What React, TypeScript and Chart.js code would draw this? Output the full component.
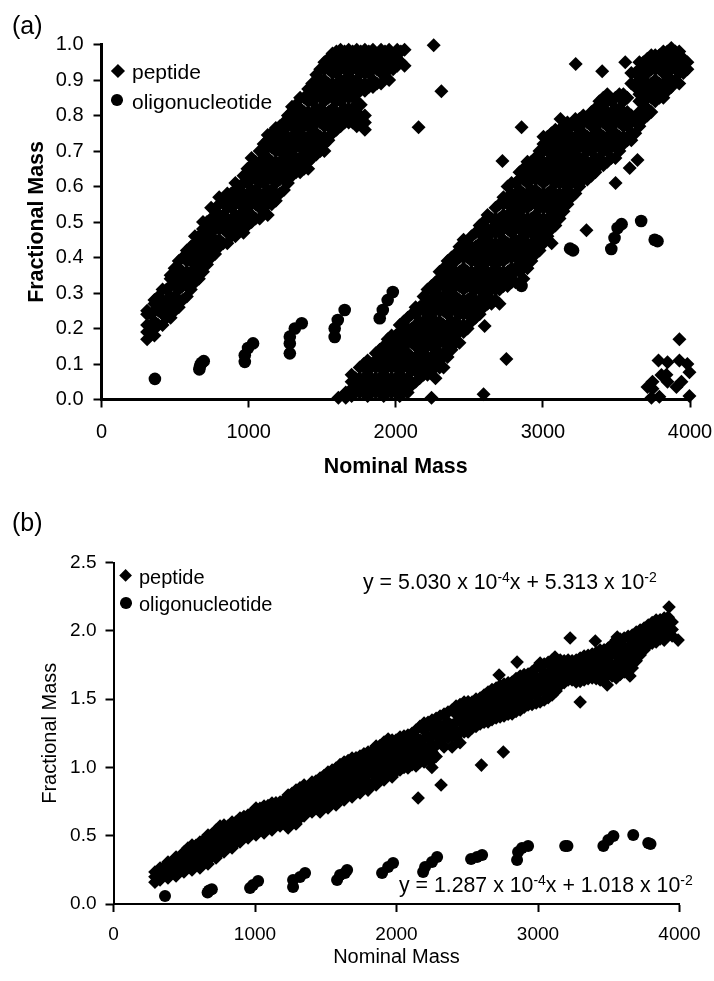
import React, { useEffect, useRef } from "react";
import { Chart, registerables } from "chart.js";

Chart.register(...registerables);

type Col = [number, number[]];

const xTicks = [0, 1000, 2000, 3000, 4000];

// Panel (a): peptide cloud, left branch, per nominal mass column
const peptideUpperA: Col[] = [
  [310, [.17, .19, .21, .24, .25]],
  [360, [.18, .2, .22, .25, .27, .28]],
  [415, [.21, .24, .26, .28, .31]],
  [470, [.23, .25, .27, .29, .32, .34, .35]],
  [525, [.26, .28, .31, .33, .35, .37, .39]],
  [580, [.29, .32, .34, .36, .39, .41, .42]],
  [635, [.33, .35, .37, .4, .42, .44, .46]],
  [690, [.36, .39, .41, .43, .45, .48, .5]],
  [745, [.4, .42, .44, .47, .49, .51, .54]],
  [800, [.43, .45, .48, .5, .52, .55, .57]],
  [855, [.44, .47, .49, .51, .54, .56, .58]],
  [910, [.46, .48, .5, .52, .55, .57, .59, .61]],
  [965, [.47, .49, .51, .54, .56, .58, .61, .63]],
  [1020, [.5, .52, .55, .57, .59, .62, .64, .66, .68]],
  [1075, [.51, .54, .56, .58, .61, .63, .65, .67, .7]],
  [1130, [.52, .55, .57, .59, .62, .64, .66, .68, .71, .73, .745]],
  [1185, [.56, .58, .61, .63, .65, .67, .7, .72, .74, .765]],
  [1240, [.59, .62, .64, .66, .68, .71, .73, .75, .78]],
  [1295, [.63, .65, .67, .7, .72, .74, .77, .79, .81, .825]],
  [1350, [.64, .66, .68, .71, .73, .75, .78, .8, .82, .85]],
  [1405, [.65, .67, .7, .72, .74, .77, .79, .81, .84, .86, .875]],
  [1460, [.69, .71, .73, .75, .78, .8, .82, .85, .87, .89, .915]],
  [1515, [.7, .72, .74, .77, .79, .81, .84, .86, .88, .9, .93, .95]],
  [1570, [.75, .78, .8, .82, .85, .87, .89, .92, .94, .96, .975]],
  [1625, [.77, .79, .81, .84, .86, .88, .9, .93, .95, .97, .985]],
  [1680, [.78, .8, .82, .85, .87, .89, .92, .94, .96, .985]],
  [1735, [.77, .79, .81, .84, .86, .88, .9, .93, .95, .97, .985]],
  [1790, [.76, .78, .8, .87, .89, .92, .94, .96, .985]],
  [1845, [.88, .9, .93, .95, .97, .985]],
  [1900, [.89, .92, .94, .96, .985]],
  [1955, [.9, .93, .95, .97, .985]],
  [2010, [.94, .96, .985]],
  [2060, [.94, .985]],
];

const peptideUpperCoreA: Col[] = [
  [337, [.2, .24]], [387, [.21, .25, .29]], [442, [.23, .27, .31]], [497, [.25, .29, .33, .37]],
  [552, [.28, .32, .36, .4]], [607, [.31, .35, .39, .43]], [662, [.34, .38, .42, .46]], [717, [.38, .42, .46, .5]],
  [772, [.41, .45, .49, .53]], [827, [.44, .48, .52, .56]], [882, [.46, .5, .54, .58]], [937, [.48, .52, .56, .6]],
  [992, [.49, .53, .57, .61, .65]], [1047, [.51, .55, .59, .63, .67]], [1102, [.53, .57, .61, .65, .69, .72]],
  [1157, [.55, .59, .63, .67, .71, .75]], [1212, [.58, .62, .66, .7, .74, .77]], [1267, [.61, .65, .69, .73, .77, .8]],
  [1322, [.64, .68, .72, .76, .8, .83]], [1377, [.65, .69, .73, .77, .81, .85]], [1432, [.68, .72, .76, .8, .84, .89]],
  [1487, [.7, .74, .78, .82, .86, .9, .93]], [1542, [.73, .77, .81, .85, .89, .93, .96]], [1597, [.76, .8, .84, .88, .92, .96, .98]],
  [1652, [.78, .82, .86, .9, .94, .98]], [1707, [.78, .82, .86, .9, .94, .98]], [1762, [.79, .83, .88, .92, .96, .98]],
  [1817, [.88, .92, .96, .98]], [1872, [.89, .93, .97]], [1927, [.91, .95, .98]], [1982, [.93, .97]], [2035, [.95, .98]],
];

// Panel (a): peptide cloud, right branch
const peptideLowerA: Col[] = [
  [1610, [.005]], [1660, [.005, .02]],
  [1700, [.01, .03, .05, .07]],
  [1755, [.02, .04, .06, .09]],
  [1809, [.01, .03, .05, .08, .1, .11]],
  [1864, [.02, .04, .06, .09, .11, .13]],
  [1918, [.01, .03, .05, .08, .1, .12, .15]],
  [1972, [.02, .04, .06, .09, .11, .13, .16, .18]],
  [2027, [.01, .03, .05, .08, .1, .12, .15, .17, .19, .21]],
  [2081, [.02, .04, .06, .09, .11, .13, .16, .18, .2, .23]],
  [2135, [.05, .08, .1, .12, .15, .17, .19, .21, .24, .26]],
  [2189, [.07, .09, .11, .13, .16, .18, .2, .22, .25, .27, .29]],
  [2243, [.08, .1, .12, .15, .17, .19, .21, .24, .26, .28, .32]],
  [2298, [.09, .11, .13, .16, .18, .2, .22, .25, .27, .29, .32, .34, .36]],
  [2352, [.12, .15, .17, .19, .21, .24, .26, .28, .31, .33, .35, .37, .39]],
  [2406, [.16, .18, .2, .22, .25, .27, .29, .32, .34, .36, .39, .41]],
  [2461, [.19, .21, .24, .26, .28, .31, .33, .35, .37, .4, .42, .45]],
  [2515, [.22, .25, .27, .29, .32, .34, .36, .39, .41, .43, .46]],
  [2570, [.24, .26, .28, .31, .33, .35, .37, .4, .42, .44, .47, .49]],
  [2624, [.27, .29, .32, .34, .36, .39, .41, .43, .45, .48, .52]],
  [2678, [.28, .31, .33, .35, .37, .4, .42, .44, .47, .49, .51, .54]],
  [2732, [.32, .34, .36, .39, .41, .43, .45, .48, .5, .52, .55, .57]],
  [2787, [.33, .35, .37, .4, .42, .44, .47, .49, .51, .54, .56, .58, .61]],
  [2841, [.36, .39, .41, .43, .45, .48, .5, .52, .55, .57, .59, .62, .64]],
  [2895, [.37, .4, .42, .44, .47, .49, .51, .54, .56, .58, .61, .63, .65, .67]],
  [2950, [.41, .43, .45, .48, .5, .52, .55, .57, .59, .62, .64, .66, .68]],
  [3004, [.44, .47, .49, .51, .54, .56, .58, .61, .63, .65, .67, .7, .72, .74]],
  [3058, [.48, .5, .52, .55, .57, .59, .62, .64, .66, .68, .71, .73, .75]],
  [3113, [.51, .54, .56, .58, .61, .63, .65, .67, .7, .72, .74, .76]],
  [3167, [.55, .57, .59, .62, .64, .66, .68, .71, .73, .75, .78]],
  [3221, [.58, .61, .63, .65, .67, .7, .72, .74, .77, .79]],
  [3275, [.62, .64, .66, .68, .71, .73, .75, .78, .8]],
  [3330, [.63, .65, .67, .7, .72, .74, .77, .79, .81]],
  [3384, [.66, .68, .71, .73, .75, .78, .8, .82, .84]],
  [3438, [.67, .7, .72, .74, .77, .79, .81, .84, .86]],
  [3493, [.68, .71, .73, .75, .78, .8, .82, .85]],
  [3547, [.72, .74, .77, .79, .81, .84, .86]],
  [3601, [.73, .75, .78, .8, .89, .92]],
  [3656, [.77, .79, .81, .84, .86, .88, .9, .93, .95]],
  [3710, [.8, .82, .85, .87, .89, .92, .94, .96]],
  [3764, [.84, .86, .88, .9, .93, .95, .97]],
  [3819, [.85, .87, .89, .92, .94, .96, .98]],
  [3873, [.88, .9, .93, .95, .97, .99]],
  [3927, [.89, .92, .94, .96, .98]],
  [3982, [.93, .95]],
];

const peptideLowerCoreA: Col[] = [
  [1727, [.02, .06]], [1782, [.02, .06, .1]], [1836, [.02, .06, .1]], [1891, [.02, .06, .1, .14]],
  [1945, [.02, .06, .1, .14, .17]], [2000, [.02, .06, .1, .14, .18]], [2054, [.02, .06, .1, .14, .18, .22]],
  [2108, [.04, .08, .12, .16, .2, .24]], [2162, [.06, .1, .14, .18, .22, .26]], [2216, [.07, .11, .15, .19, .23, .27, .31]],
  [2270, [.06, .1, .14, .18, .22, .26, .3, .33]], [2325, [.09, .13, .17, .21, .25, .29, .33, .37]],
  [2379, [.14, .18, .22, .26, .3, .34, .38, .4]], [2433, [.16, .2, .24, .28, .32, .36, .4, .43]],
  [2488, [.2, .24, .28, .32, .36, .4, .44]], [2542, [.23, .27, .31, .35, .39, .43, .47]],
  [2597, [.26, .3, .34, .38, .42, .46, .5]], [2651, [.27, .31, .35, .39, .43, .47, .51]],
  [2705, [.27, .31, .35, .39, .43, .47, .51, .55]], [2760, [.32, .36, .4, .44, .48, .52, .56, .6]],
  [2814, [.33, .37, .41, .45, .49, .53, .57, .61]], [2868, [.34, .38, .42, .46, .5, .54, .58, .62, .65]],
  [2922, [.39, .43, .47, .51, .55, .59, .63, .67]], [2977, [.42, .46, .5, .54, .58, .62, .66, .7]],
  [3031, [.46, .5, .54, .58, .62, .66, .7, .74]], [3085, [.49, .53, .57, .61, .65, .69, .73, .76]],
  [3140, [.53, .57, .61, .65, .69, .73, .77]], [3194, [.57, .61, .65, .69, .73, .77]],
  [3248, [.6, .64, .68, .72, .76, .79]], [3302, [.62, .66, .7, .74, .78]], [3357, [.64, .68, .72, .76, .8, .82]],
  [3411, [.66, .7, .74, .78, .82, .85]], [3465, [.68, .72, .76, .8, .84]], [3520, [.7, .74, .78, .82, .86]],
  [3574, [.73, .77, .81, .85]], [3628, [.75, .79, .88, .92]], [3683, [.79, .83, .87, .91, .95]],
  [3737, [.81, .85, .89, .93, .97]], [3792, [.85, .89, .93, .97]], [3846, [.87, .91, .95, .98]],
  [3900, [.9, .94, .98]], [3955, [.92, .96]],
];

const peptideStrayA: [number, number][] = [
  [2258, 0.998], [2310, 0.868], [2155, 0.767], [3223, 0.945], [3403, 0.925], [3560, 0.95], [3120, 0.79], [2855, 0.767],
  [2725, 0.672], [2955, 0.683], [3643, 0.675], [3590, 0.652], [3494, 0.61], [3296, 0.477], [3060, 0.44], [2604, 0.207],
  [2752, 0.114], [2597, 0.015], [2243, 0.005], [3928, 0.17], [3786, 0.11], [3928, 0.11], [3982, 0.1], [3996, 0.077],
  [3847, 0.105], [3806, 0.069], [3745, 0.05], [3711, 0.035], [3847, 0.05], [3942, 0.05], [3908, 0.035], [3738, 0.005],
  [3792, 0.008], [3996, 0.01], [3840, 0.07], [3745, 0.03],
];

const oligoA: [number, number][] = [
  [363, 0.058], [665, 0.085], [670, 0.095], [680, 0.103], [695, 0.108], [974, 0.106], [974, 0.125], [996, 0.145], [1030, 0.158],
  [1280, 0.13], [1280, 0.158], [1280, 0.177], [1314, 0.2], [1361, 0.215], [1585, 0.176], [1585, 0.2], [1606, 0.224], [1653, 0.252],
  [1891, 0.229], [1912, 0.252], [1945, 0.28], [1980, 0.303], [2210, 0.26], [2240, 0.28], [2270, 0.3], [2500, 0.32], [2550, 0.335],
  [2590, 0.35], [2855, 0.32], [2870, 0.4], [2930, 0.42], [3185, 0.425], [3205, 0.42], [3465, 0.424], [3487, 0.455], [3508, 0.483],
  [3535, 0.494], [3668, 0.503], [3760, 0.45], [3779, 0.446],
];

// Panel (b): peptide band
const peptideBandB: Col[] = [
  [293, [.16, .2, .234]], [329, [.176, .22, .264]], [385, [.19, .25, .307]], [442, [.205, .25, .3, .344]],
  [498, [.234, .28, .33, .381]], [555, [.249, .3, .35, .4, .432]], [611, [.264, .32, .37, .42, .454]],
  [668, [.293, .34, .39, .45, .505]], [725, [.337, .39, .44, .49, .542]], [781, [.381, .43, .48, .53, .578]],
  [838, [.41, .46, .505, .55, .6]], [894, [.454, .5, .55, .59, .63]], [951, [.483, .53, .57, .61, .651]],
  [1007, [.505, .55, .6, .65, .703]], [1064, [.52, .57, .62, .67, .717]], [1120, [.542, .59, .64, .69, .739]],
  [1177, [.571, .62, .66, .7, .747]], [1234, [.556, .61, .66, .71, .75, .798]], [1290, [.586, .64, .69, .74, .79, .834]],
  [1347, [.644, .69, .74, .79, .83, .871]], [1403, [.673, .72, .77, .81, .85, .893]], [1460, [.673, .73, .78, .83, .88, .922]],
  [1516, [.703, .75, .8, .85, .91, .966]], [1573, [.725, .78, .83, .89, .94, .996]], [1630, [.761, .81, .87, .93, .98, 1.04]],
  [1686, [.783, .84, .89, .95, 1.01, 1.069]], [1742, [.813, .87, .92, .98, 1.03, 1.083]], [1799, [.834, .89, .95, 1.0, 1.06, 1.113]],
  [1856, [.871, .93, .98, 1.04, 1.1, 1.157]], [1912, [.908, .96, 1.02, 1.08, 1.13, 1.186]], [1969, [.93, .99, 1.04, 1.09, 1.15, 1.2]],
  [2025, [.981, 1.03, 1.08, 1.13, 1.18, 1.222]], [2081, [.996, 1.05, 1.1, 1.15, 1.2, 1.237]], [2138, [1.01, 1.07, 1.12, 1.17, 1.22, 1.274]],
  [2195, [1.04, 1.09, 1.15, 1.21, 1.27, 1.325]], [2251, [1.054, 1.11, 1.17, 1.23, 1.29, 1.347]], [2308, [1.186, 1.24, 1.3, 1.376]],
  [2364, [1.215, 1.27, 1.33, 1.405]], [2421, [1.215, 1.27, 1.33, 1.39, 1.449]], [2478, [1.259, 1.31, 1.37, 1.43, 1.479]],
  [2534, [1.288, 1.34, 1.39, 1.44, 1.479]], [2591, [1.318, 1.37, 1.41, 1.46, 1.508]], [2647, [1.332, 1.39, 1.44, 1.5, 1.552]],
  [2704, [1.362, 1.42, 1.47, 1.53, 1.581]], [2760, [1.376, 1.43, 1.49, 1.55, 1.61]], [2817, [1.391, 1.45, 1.51, 1.57, 1.625]],
  [2874, [1.42, 1.48, 1.545, 1.61, 1.669]], [2930, [1.457, 1.51, 1.57, 1.63, 1.684]], [2987, [1.471, 1.53, 1.6, 1.66, 1.728]],
  [3044, [1.493, 1.56, 1.625, 1.69, 1.757]], [3100, [1.53, 1.6, 1.66, 1.72, 1.786]], [3157, [1.603, 1.65, 1.695, 1.74, 1.786]],
  [3213, [1.64, 1.68, 1.71, 1.75, 1.786]], [3270, [1.625, 1.67, 1.705, 1.75, 1.786]], [3326, [1.64, 1.68, 1.73, 1.77, 1.815]],
  [3383, [1.654, 1.7, 1.74, 1.78, 1.83]], [3439, [1.64, 1.69, 1.75, 1.8, 1.859]], [3496, [1.676, 1.72, 1.775, 1.82, 1.874]],
  [3553, [1.654, 1.71, 1.76, 1.82, 1.88, 1.932]], [3609, [1.698, 1.76, 1.82, 1.88, 1.947]], [3666, [1.728, 1.79, 1.85, 1.91, 1.969]],
  [3722, [1.823, 1.87, 1.915, 1.96, 2.006]], [3779, [1.896, 1.93, 1.97, 2.042]], [3835, [1.918, 1.96, 2.0, 2.04, 2.079]],
  [3892, [1.932, 1.97, 2.01, 2.05, 2.094]], [3948, [1.962, 2.01, 2.064]],
];

const peptideBandCoreB: Col[] = [
  [357, [.22, .27]], [413, [.23, .3]], [470, [.25, .33]], [526, [.27, .35, .41]], [583, [.3, .38, .43]], [639, [.32, .4, .47]],
  [696, [.35, .43, .51]], [753, [.38, .46, .54, .57]], [809, [.42, .5, .57]], [866, [.45, .53, .6]], [922, [.49, .57, .64]],
  [979, [.52, .6, .67]], [1035, [.54, .62, .7]], [1092, [.57, .65, .72]], [1148, [.59, .67, .74]], [1205, [.6, .68, .76]],
  [1262, [.6, .68, .76, .81]], [1318, [.63, .71, .79, .85]], [1375, [.68, .76, .84]], [1431, [.7, .78, .86, .9]],
  [1488, [.72, .8, .88, .94]], [1545, [.75, .83, .91, .98]], [1601, [.79, .87, .95, 1.02]], [1658, [.81, .89, .97, 1.05]],
  [1714, [.83, .91, .99, 1.07]], [1770, [.86, .94, 1.02, 1.1]], [1827, [.88, .96, 1.04, 1.12]], [1884, [.92, 1.0, 1.08, 1.16]],
  [1940, [.95, 1.03, 1.11, 1.19]], [1997, [.97, 1.05, 1.13, 1.2]], [2053, [1.0, 1.08, 1.16, 1.23]], [2110, [1.02, 1.1, 1.18, 1.25]],
  [2166, [1.04, 1.12, 1.2, 1.3]], [2223, [1.06, 1.14, 1.22, 1.33]], [2280, [1.08, 1.16, 1.24, 1.32, 1.36]], [2336, [1.15, 1.23, 1.31, 1.39]],
  [2393, [1.15, 1.23, 1.31, 1.42]], [2449, [1.18, 1.26, 1.34, 1.42, 1.46]], [2506, [1.26, 1.34, 1.42, 1.48]], [2562, [1.3, 1.38, 1.46, 1.5]],
  [2619, [1.33, 1.41, 1.49, 1.53]], [2675, [1.35, 1.43, 1.51, 1.57]], [2732, [1.37, 1.45, 1.53, 1.6]], [2789, [1.39, 1.47, 1.55, 1.62]],
  [2845, [1.41, 1.49, 1.57, 1.65]], [2902, [1.44, 1.52, 1.6, 1.68]], [2958, [1.46, 1.54, 1.62, 1.7]], [3015, [1.48, 1.56, 1.64, 1.74]],
  [3072, [1.51, 1.59, 1.67, 1.77]], [3128, [1.56, 1.64, 1.72, 1.78]], [3185, [1.62, 1.7, 1.78]], [3241, [1.64, 1.72, 1.78]],
  [3298, [1.63, 1.71, 1.8]], [3354, [1.65, 1.73, 1.82]], [3411, [1.65, 1.73, 1.84]], [3467, [1.66, 1.74, 1.86]],
  [3524, [1.67, 1.75, 1.83, 1.9]], [3581, [1.68, 1.76, 1.84, 1.94]], [3637, [1.71, 1.79, 1.87, 1.96]], [3694, [1.78, 1.86, 1.94, 1.99]],
  [3750, [1.86, 1.94, 2.02]], [3807, [1.91, 1.99, 2.06]], [3863, [1.94, 2.02, 2.08]], [3920, [1.97, 2.05, 2.1]],
];

const peptideStrayB: [number, number][] = [
  [2725, 1.676], [2852, 1.771], [3227, 1.947], [3405, 1.925], [3560, 1.955], [3926, 2.174], [3990, 1.932], [3298, 1.479],
  [2755, 1.113], [2600, 1.017], [2315, 0.871], [2153, 0.776], [3489, 1.603], [3650, 1.669], [2250, 1.0], [1941, 1.208],
  [3015, 1.764], [3120, 1.808],
];

const oligoB: [number, number][] = [
  [364, 0.059], [665, 0.085], [675, 0.098], [695, 0.108], [965, 0.117], [986, 0.139], [1022, 0.168], [1269, 0.124], [1269, 0.176],
  [1318, 0.198], [1354, 0.227], [1580, 0.176], [1601, 0.212], [1636, 0.227], [1651, 0.249], [1898, 0.227], [1941, 0.271], [1976, 0.3],
  [2188, 0.234], [2202, 0.271], [2251, 0.307], [2287, 0.344], [2527, 0.329], [2569, 0.344], [2605, 0.359], [2852, 0.322], [2859, 0.381],
  [2887, 0.41], [2930, 0.425], [3192, 0.425], [3208, 0.425], [3462, 0.425], [3497, 0.468], [3533, 0.498], [3673, 0.505], [3779, 0.447],
  [3795, 0.44],
];

const FONT = "'Liberation Sans', Arial, sans-serif";

const toPoints = (cols: Col[]) => cols.flatMap(([x, ys]) => ys.map((y) => ({ x, y })));
const pairs = (list: [number, number][]) => list.map(([x, y]) => ({ x, y }));

type PanelCfg = {
  peptide: { x: number; y: number }[];
  oligo: { x: number; y: number }[];
  yMax: number;
  yStep: number;
  top: number;
  right: number;
  yWidth: number;
  xHeight: number;
  diamond: number;
  circle: number;
  lineW: number;
  tickSize: number;
  titleSize: number;
  titleWeight: string;
  yTitlePad: number;
  xTitlePad: number;
  xTickPad: number;
  yTickPad: number;
};

function makeChart(canvas: HTMLCanvasElement, c: PanelCfg) {
  const axisCommon = {
    border: { display: true, color: "#000", width: c.lineW },
    grid: { drawOnChartArea: false, drawTicks: true, tickLength: 8, tickWidth: 2, tickColor: "#000", color: "#000" },
  };
  return new Chart(canvas, {
    type: "scatter",
    data: {
      datasets: [
        {
          label: "oligonucleotide",
          data: c.oligo,
          pointStyle: "circle",
          pointRadius: c.circle,
          backgroundColor: "#000",
          borderWidth: 0,
          clip: false,
        },
        {
          label: "peptide",
          data: c.peptide,
          pointStyle: "rectRot",
          pointRadius: c.diamond,
          backgroundColor: "#000",
          borderWidth: 0,
          clip: false,
        },
      ],
    },
    options: {
      responsive: false,
      animation: false,
      events: [],
      layout: { padding: { top: c.top, right: c.right, left: 0, bottom: 0 } },
      plugins: { legend: { display: false }, tooltip: { enabled: false } },
      scales: {
        x: {
          type: "linear",
          min: 0,
          max: 4000,
          afterBuildTicks: (s: any) => {
            s.ticks = xTicks.map((value) => ({ value }));
          },
          afterFit: (s: any) => {
            s.height = c.xHeight;
            s.paddingLeft = 0;
            s.paddingRight = 0;
          },
          ...axisCommon,
          ticks: {
            color: "#000",
            padding: c.xTickPad,
            maxRotation: 0,
            font: { family: FONT, size: c.tickSize },
            callback: (v: any) => String(v),
          },
          title: {
            display: true,
            text: "Nominal Mass",
            color: "#000",
            padding: { top: 0, bottom: c.xTitlePad },
            font: { family: FONT, size: c.titleSize, weight: c.titleWeight },
          },
        },
        y: {
          type: "linear",
          min: 0,
          max: c.yMax,
          afterFit: (s: any) => {
            s.width = c.yWidth;
            s.paddingTop = 0;
            s.paddingBottom = 0;
          },
          ...axisCommon,
          ticks: {
            color: "#000",
            stepSize: c.yStep,
            padding: c.yTickPad,
            font: { family: FONT, size: c.tickSize },
            callback: (v: any) => Number(v).toFixed(1),
          },
          title: {
            display: true,
            text: "Fractional Mass",
            color: "#000",
            padding: { top: c.yTitlePad, bottom: 0 },
            font: { family: FONT, size: c.titleSize, weight: c.titleWeight },
          },
        },
      },
    },
  } as any);
}

const label = (left: number, cy: number, size: number): React.CSSProperties => ({
  position: "absolute",
  left,
  top: cy,
  transform: "translateY(-50%)",
  fontFamily: FONT,
  fontSize: size,
  lineHeight: 1,
  color: "#000",
  whiteSpace: "nowrap",
});

const sup: React.CSSProperties = { fontSize: 14, verticalAlign: 7, lineHeight: 0 };

function Diamond({ cx, cy, r }: { cx: number; cy: number; r: number }) {
  const side = r * Math.SQRT2;
  return (
    <div
      style={{
        position: "absolute",
        left: cx - side / 2,
        top: cy - side / 2,
        width: side,
        height: side,
        background: "#000",
        transform: "rotate(45deg)",
      }}
    />
  );
}

function Dot({ cx, cy, r }: { cx: number; cy: number; r: number }) {
  return (
    <div
      style={{
        position: "absolute",
        left: cx - r,
        top: cy - r,
        width: 2 * r,
        height: 2 * r,
        borderRadius: "50%",
        background: "#000",
      }}
    />
  );
}

export default function App() {
  const aRef = useRef<HTMLCanvasElement>(null);
  const bRef = useRef<HTMLCanvasElement>(null);

  useEffect(() => {
    const a = makeChart(aRef.current!, {
      peptide: [
        ...toPoints(peptideUpperA),
        ...toPoints(peptideUpperCoreA),
        ...toPoints(peptideLowerA),
        ...toPoints(peptideLowerCoreA),
        ...pairs(peptideStrayA),
      ],
      oligo: pairs(oligoA),
      yMax: 1,
      yStep: 0.1,
      top: 44.5,
      right: 24,
      yWidth: 101.5,
      xHeight: 90.5,
      diamond: 7,
      circle: 6.3,
      lineW: 3,
      tickSize: 20,
      titleSize: 21.4,
      titleWeight: "bold",
      yTitlePad: 24,
      xTitlePad: 10,
      xTickPad: 13,
      yTickPad: 10,
    });
    const b = makeChart(bRef.current!, {
      peptide: [...toPoints(peptideBandB), ...toPoints(peptideBandCoreB), ...pairs(peptideStrayB)],
      oligo: pairs(oligoB),
      yMax: 2.5,
      yStep: 0.5,
      top: 72.5,
      right: 34.5,
      yWidth: 113.5,
      xHeight: 77,
      diamond: 6.8,
      circle: 6,
      lineW: 2,
      tickSize: 19,
      titleSize: 20,
      titleWeight: "normal",
      yTitlePad: 38,
      xTitlePad: 12,
      xTickPad: 11,
      yTickPad: 9,
    });
    return () => {
      a.destroy();
      b.destroy();
    };
  }, []);

  return (
    <div style={{ position: "absolute", left: 0, top: 0, width: 714, height: 981, overflow: "hidden", background: "#fff" }}>
      <canvas ref={aRef} width={714} height={490} style={{ position: "absolute", left: 0, top: 0, width: 714, height: 490 }} />
      <canvas ref={bRef} width={714} height={491} style={{ position: "absolute", left: 0, top: 490, width: 714, height: 491 }} />

      <div style={label(12, 25, 25)}>(a)</div>
      <Diamond cx={118} cy={71} r={7} />
      <div style={label(132, 71, 21)}>peptide</div>
      <Dot cx={117} cy={100} r={5.8} />
      <div style={label(132, 101, 21)}>oligonucleotide</div>

      <div style={label(12, 522, 25)}>(b)</div>
      <Diamond cx={126} cy={576} r={6.5} />
      <div style={label(139, 577, 20)}>peptide</div>
      <Dot cx={126} cy={603} r={5.8} />
      <div style={label(139, 604, 20)}>oligonucleotide</div>

      <div style={label(363, 583, 21.3)}>
        y = 5.030 x 10<span style={sup}>-4</span>x + 5.313 x 10<span style={sup}>-2</span>
      </div>
      <div style={label(399, 886, 21.3)}>
        y = 1.287 x 10<span style={sup}>-4</span>x + 1.018 x 10<span style={sup}>-2</span>
      </div>
    </div>
  );
}
